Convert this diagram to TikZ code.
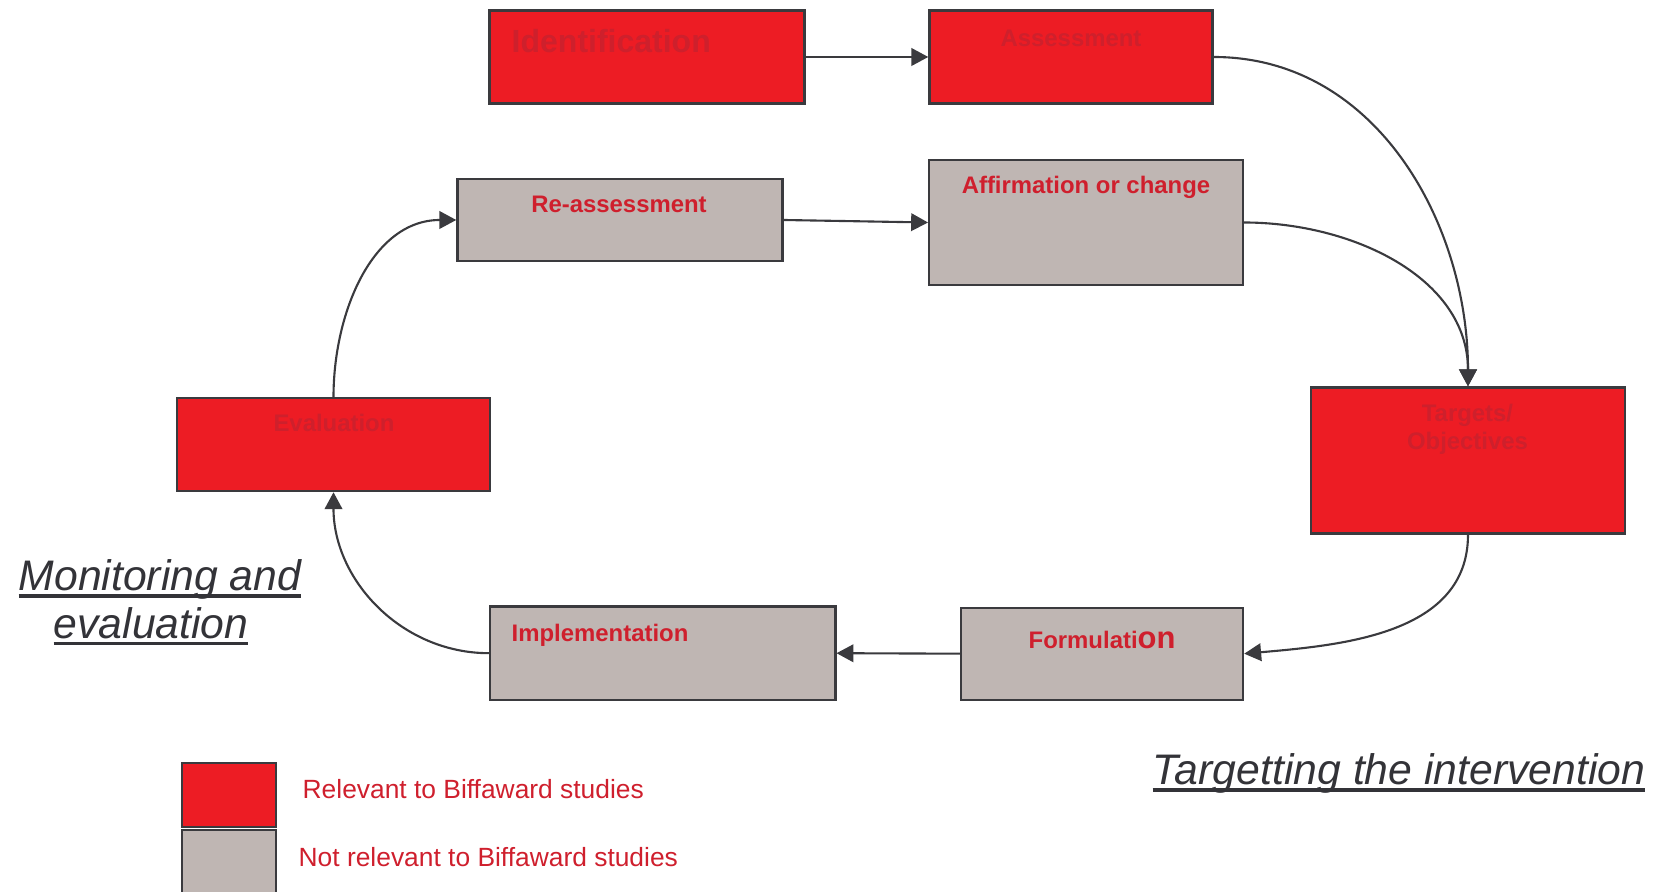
\documentclass[tikz,border=0pt]{standalone}
\usepackage{fontspec}
\setmainfont{Liberation Sans}
\usepackage{xcolor}
\usepackage{tikz}
\usetikzlibrary{arrows.meta}
\definecolor{boxred}{RGB}{237,28,36}
\definecolor{boxgrey}{RGB}{191,182,179}
\definecolor{edgegrey}{RGB}{58,58,62}
\definecolor{dimred}{RGB}{206,32,44}
\definecolor{labelred}{RGB}{207,31,45}
\definecolor{titlegrey}{RGB}{51,51,56}
\newcommand{\thickul}[1]{\setbox0\hbox{#1}\rlap{\rule[-2pt]{\wd0}{1.1pt}}\box0}

\begin{document}
\begin{tikzpicture}[x=0.01cm, y=-0.01cm,
  redbox/.style={draw=edgegrey, line width=0.65pt, fill=boxred, inner sep=0},
  greybox/.style={draw=edgegrey, line width=0.65pt, fill=boxgrey, inner sep=0},
  redtext/.style={font=\fontsize{6.8pt}{8pt}\selectfont\bfseries, text=dimred, inner sep=0},
  greytext/.style={font=\fontsize{6.8pt}{8pt}\selectfont\bfseries, text=labelred, inner sep=0},
  heading/.style={font=\fontsize{12.15pt}{14pt}\selectfont\itshape, text=titlegrey, inner sep=0, anchor=base west},
  keytext/.style={font=\fontsize{7.5pt}{9pt}\selectfont, text=labelred, inner sep=0, anchor=base west},
  link/.style={draw=edgegrey, line width=0.6pt, -{Triangle[length=4.8pt,width=5pt]}}]
\useasboundingbox (0,0) rectangle (1660,892);
%boxes
\node[redbox, minimum width=3.15cm, minimum height=0.93cm] (iden) at (647,57) {};
\node[redbox, minimum width=2.83cm, minimum height=0.93cm] (asse) at (1071,57) {};
\node[greybox, minimum width=3.25cm, minimum height=0.825cm] (reas) at (620,220) {};
\node[greybox, minimum width=3.135cm, minimum height=1.25cm] (affi) at (1086,222.5) {};
\node[redbox, minimum width=3.14cm, minimum height=1.46cm] (targ) at (1468,460.5) {};
\node[redbox, minimum width=3.134cm, minimum height=0.93cm] (eval) at (333.5,444.6) {};
\node[greybox, minimum width=3.45cm, minimum height=0.932cm] (impl) at (662.8,653.2) {};
\node[greybox, minimum width=2.82cm, minimum height=0.92cm] (form) at (1102,653.7) {};
%box texts
\node[redtext, font=\fontsize{9.1pt}{11pt}\selectfont\bfseries, anchor=base west] (iden-t) at (511,53) {Identification};
\node[redtext, anchor=base] (asse-t) at (1071,46.6) {Assessment};
\node[greytext, anchor=base] (reas-t) at (619,212.8) {Re-assessment};
\node[greytext, anchor=base] (affi-t) at (1086,193.7) {Affirmation or change};
\node[redtext, anchor=base] (targ-t1) at (1467.5,421.4) {Targets/};
\node[redtext, anchor=base] (targ-t2) at (1467.5,450) {Objectives};
\node[redtext, anchor=base] (eval-t) at (334,432) {Evaluation};
\node[greytext, anchor=base west] (impl-t) at (511,641.6) {Implementation};
\node[greytext, anchor=base west] (form-t) at (1028,649) {Formulati{\fontsize{8.8pt}{10pt}\selectfont on}};
%headings
\node[heading] (moni-1) at (18,591) {\thickul{Monitoring and}};
\node[heading] (moni-2) at (53,638.4) {\thickul{evaluation}};
\node[heading] (tgt) at (1152,785) {\thickul{Targetting the intervention}};
%key
\node[redbox, minimum width=0.94cm, minimum height=0.635cm] (key1) at (229,795) {};
\node[greybox, minimum width=0.94cm, minimum height=0.8cm] (key2) at (229,870) {};
\node[keytext] (key1-t) at (302,799) {Relevant to Biffaward studies};
\node[keytext] (key2-t) at (298,867) {Not relevant to Biffaward studies};
%links
\draw [link] (iden) -- (asse);
\draw [link] (asse.east) to[out=0, in=90] (targ.north);
\draw [link] (affi.east) to[out=0, in=90] (targ.north);
\draw [link] (targ.south) to[out=-90, in=5] (form.east);
\draw [link] (form.west) -- (impl.east);
\draw [link] (impl.west) to[out=180, in=-90] (eval.south);
\draw [link] (eval.north) to[out=90, in=180] (reas.west);
\draw [link] (reas.east) -- (affi.west);
\end{tikzpicture}
\end{document}
